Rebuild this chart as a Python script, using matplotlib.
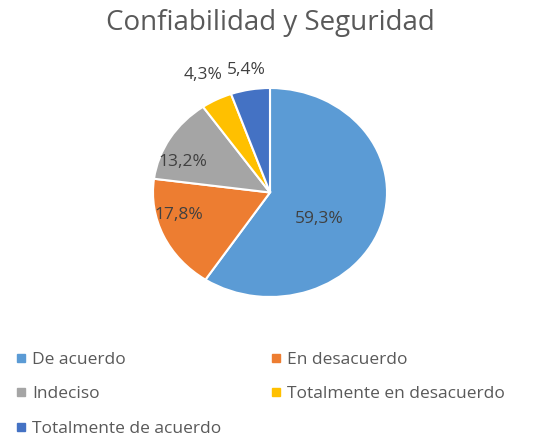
import numpy as np
import matplotlib.pyplot as plt
from matplotlib.lines import Line2D

plt.rcParams['font.family'] = ['Open Sans', 'DejaVu Sans']

categorias = ['De acuerdo', 'En desacuerdo', 'Indeciso',
              'Totalmente en desacuerdo', 'Totalmente de acuerdo']
porcentajes = [59.3, 17.8, 13.2, 4.3, 5.4]
colores = ['#5B9BD5', '#ED7D31', '#A5A5A5', '#FFC000', '#4472C4']
# posición de cada etiqueta: distancia al centro (en radios) y giro respecto al centro del sector
dist_etiqueta = [0.49, 0.81, 0.80, 1.26, 1.19]
giro_etiqueta = [-15, -9, 10, 0, 0]

fig = plt.figure(figsize=(5.4, 4.44), dpi=100)
fig.text(0.5, 0.948, 'Confiabilidad y Seguridad', ha='center', va='center',
         fontsize=20, color='#595959')

# el pastel del original está algo estirado en horizontal
ax = fig.add_axes([153 / 540, 147 / 444, 234 / 540, 209 / 444])
wedges, _ = ax.pie(porcentajes, colors=colores, startangle=90, counterclock=False,
                   wedgeprops=dict(edgecolor='white', linewidth=1.5))
ax.set_aspect('auto')
ax.set_xlim(-1, 1)
ax.set_ylim(-1, 1)

for w, p, d, g in zip(wedges, porcentajes, dist_etiqueta, giro_etiqueta):
    ang = np.deg2rad((w.theta1 + w.theta2) / 2 + g)
    ax.text(d * np.cos(ang), d * np.sin(ang), f'{p:.1f}%'.replace('.', ','),
            ha='center', va='center', fontsize=12.5, color='#404040', clip_on=False)

# leyenda en dos columnas, ordenada por filas
orden = [0, 2, 4, 1, 3]
handles = [Line2D([], [], marker='s', linestyle='none', markersize=6,
                  color=colores[i]) for i in orden]
fig.legend(handles, [categorias[i] for i in orden], ncol=2,
           loc='upper left', bbox_to_anchor=(0.0, 0.243), frameon=False,
           fontsize=12.5, labelcolor='#595959', handlelength=0.6,
           handletextpad=0.35, columnspacing=2.85, labelspacing=1.05)

fig.savefig('out.png', dpi=100)
